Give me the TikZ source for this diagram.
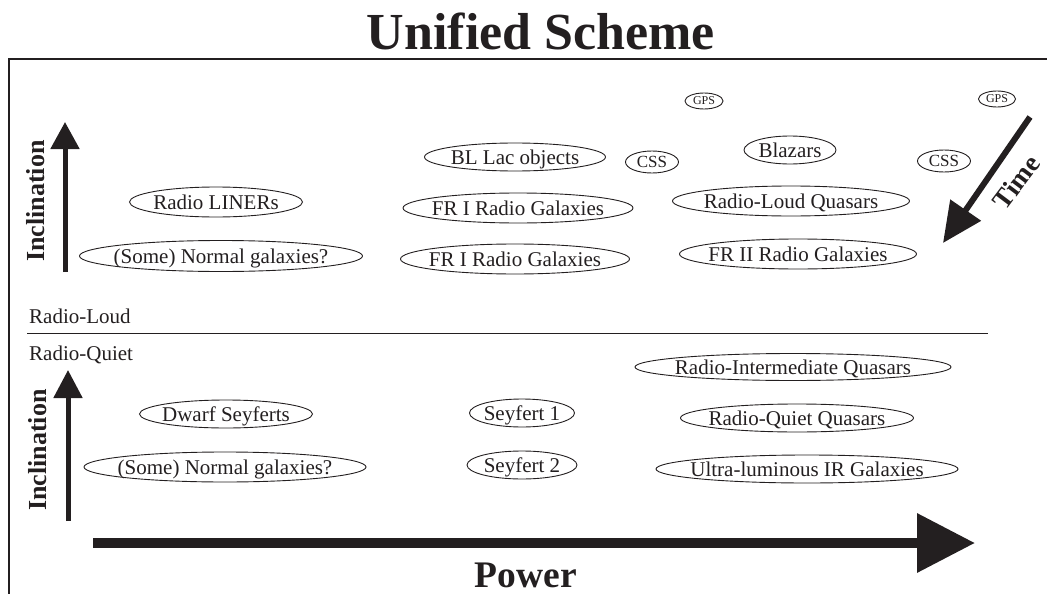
\documentclass[tikz,border=0pt]{standalone}
\usepackage{fontspec}
\setmainfont{Liberation Serif}
\usetikzlibrary{arrows.meta,positioning,shapes.geometric}
\definecolor{ink}{RGB}{35,31,32}
\tikzset{>=Stealth,
	pop/.style 2 args={% ellipse round a class of sources, size set by hand
		draw=ink, shape=ellipse, line width=.9pt,
		inner xsep=-300pt, inner ysep=-60pt,
		minimum width=#1pt, minimum height=#2pt,
		text=ink, text height=14pt, text depth=0pt,
		font=\fontsize{21}{25}\selectfont
	},
	small pop/.style={% the little CSS and GPS ones
		font=\fontsize{#1}{#1}\selectfont, text height=.66*#1 pt
	},
	tag/.style={% plain labels
		text=ink, inner sep=0pt,
		font=\fontsize{21}{25}\selectfont
	},
	axis/.style={% bold axis names
		text=ink, inner sep=0pt,
		font=\bfseries\fontsize{26}{30}\selectfont
	},
	fat/.style={ink, line width=#1}
}
\begin{document}
\begin{tikzpicture}[x=1pt, y=-1pt]
	\useasboundingbox (0,0) rectangle (1047,594);
	
	% frame and divider
	\coordinate (frameB) at (9,594);
	\coordinate (frameR) at (1047,59);
	\draw [ink, line width=1.2pt] (frameB) |- (frameR);
	\coordinate (cutL) at (27,333);
	\coordinate (cutR) at (988,333);
	\draw [ink, line width=.8pt] (cutL) -- (cutR);
	
	\node [tag, anchor=base, font=\bfseries\fontsize{52}{60}\selectfont] (title) at (541,50) {Unified Scheme};
	\node [tag, anchor=base west] (loud) at (29,323) {Radio-Loud};
	\node [tag, anchor=base west] (quiet) at (29,360) {Radio-Quiet};
	
	% axes
	\coordinate (incU0) at (65,272);
	\coordinate (incU1) at (65,122);
	\coordinate (incL0) at (68,521);
	\coordinate (incL1) at (68,370);
	\coordinate (pow0) at (93,543);
	\coordinate (pow1) at (975,543);
	\coordinate (time0) at (1030,117);
	\coordinate (time1) at (943,243);
	\draw [fat=5pt, -{Triangle[length=27pt,width=28pt]}] (incU0) -- (incU1);
	\draw [fat=5pt, -{Triangle[length=28pt,width=28pt]}] (incL0) -- (incL1);
	\draw [fat=10pt, -{Triangle[length=58pt,width=57pt]}] (pow0) -- (pow1);
	\draw [fat=6pt, -{Triangle[length=40pt,width=36pt]}] (time0) -- (time1);
	\node [axis, rotate=90] (incU) at (36,201) {Inclination};
	\node [axis, rotate=90] (incL) at (38,450) {Inclination};
	\node [axis, rotate=53, font=\bfseries\fontsize{27}{30}\selectfont] (time) at (1016,182) {Time};
	\node [axis, anchor=base, font=\bfseries\fontsize{37.5}{44}\selectfont] (power) at (526,587) {Power};
	
	% radio-loud sources
	\node [pop={173}{30}] (liners) at (216,202) {Radio LINERs};
	\node [pop={283}{31}] (normU) at (221,256) {(Some) Normal galaxies?};
	\node [pop={181}{28}] (bllac) at (515,157) {BL Lac objects};
	\node [pop={230}{30}] (friA) at (518,208) {FR I Radio Galaxies};
	\node [pop={229}{30}] (friB) at (515,259) {FR I Radio Galaxies};
	\node [pop={53}{22}, small pop=17] (cssA) at (652,162) {CSS};
	\node [pop={38}{16}, small pop=12] (gpsA) at (704,101) {GPS};
	\node [pop={92}{28}] (blazars) at (790,150) {Blazars};
	\node [pop={237}{30}] (rlq) at (791,201) {Radio-Loud Quasars};
	\node [pop={237}{30}] (frii) at (798,254) {FR II Radio Galaxies};
	\node [pop={53}{22}, small pop=17] (cssB) at (944,161) {CSS};
	\node [pop={37}{16}, small pop=12] (gpsB) at (997,99) {GPS};
	
	% radio-quiet sources
	\node [pop={316}{27}] (riq) at (793,367) {Radio-Intermediate Quasars};
	\node [pop={173}{28}] (dwarf) at (226,414) {Dwarf Seyferts};
	\node [pop={282}{30}] (normL) at (225,467) {(Some) Normal galaxies?};
	\node [pop={105}{28}] (seyI) at (522,413) {Seyfert 1};
	\node [pop={110}{28}] (seyII) at (522,465) {Seyfert 2};
	\node [pop={233}{28}] (rqq) at (797,418) {Radio-Quiet Quasars};
	\node [pop={302}{28}] (ulirg) at (807,469) {Ultra-luminous IR Galaxies};
\end{tikzpicture}
\end{document}
